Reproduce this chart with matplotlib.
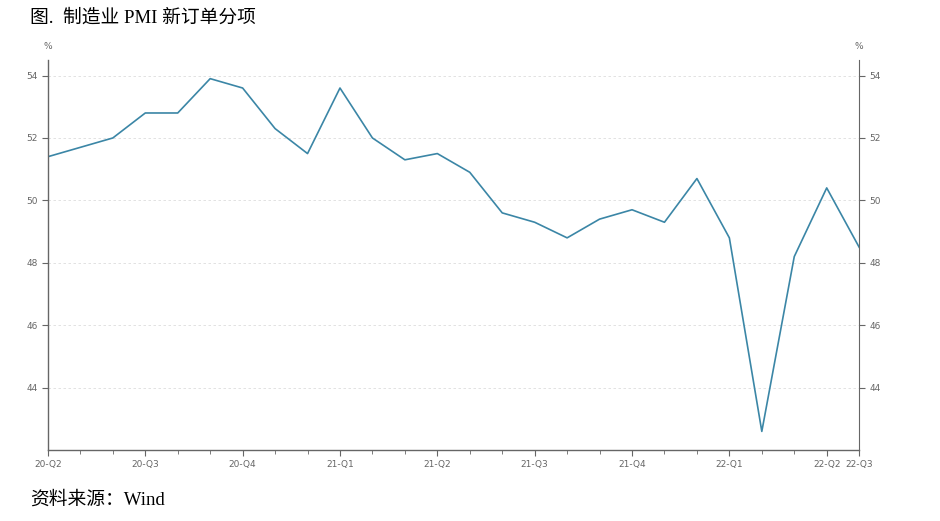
import matplotlib
matplotlib.use("Agg")
import matplotlib.pyplot as plt

# monthly new-orders index, 2020-06 .. 2022-07
months = ["2020-06", "2020-07", "2020-08", "2020-09", "2020-10", "2020-11", "2020-12",
          "2021-01", "2021-02", "2021-03", "2021-04", "2021-05", "2021-06",
          "2021-07", "2021-08", "2021-09", "2021-10", "2021-11", "2021-12",
          "2022-01", "2022-02", "2022-03", "2022-04", "2022-05", "2022-06", "2022-07"]
new_orders = [51.4, 51.7, 52.0, 52.8, 52.8, 53.9, 53.6,
              52.3, 51.5, 53.6, 52.0, 51.3, 51.5,
              50.9, 49.6, 49.3, 48.8, 49.4, 49.7,
              49.3, 50.7, 48.8, 42.6, 48.2, 50.4, 48.5]
tick_idx = [0, 3, 6, 9, 12, 15, 18, 21, 24, 25]
tick_labels = ["20-Q2", "20-Q3", "20-Q4", "21-Q1", "21-Q2", "21-Q3",
               "21-Q4", "22-Q1", "22-Q2", "22-Q3"]
y_ticks = [44, 46, 48, 50, 52, 54]

cjk = ["Liberation Serif", "Noto Sans CJK SC"]
grey = "#666666"

fig = plt.figure(figsize=(9.4, 5.21), dpi=100)
ax = fig.add_axes([0.051, 0.136, 0.863, 0.749])
x = list(range(len(months)))
ax.plot(x, new_orders, color="#3b86a6", linewidth=1.2)

ax.set_xlim(0, len(months) - 1)
ax.set_ylim(42, 54.5)
ax.set_yticks(y_ticks)
ax.set_xticks(tick_idx)
ax.set_xticklabels(tick_labels)
ax.set_xticks(x, minor=True)
ax.grid(axis="y", color="#dddddd", linestyle=(0, (3, 3)), linewidth=0.6)

for s in ["top", "right"]:
    ax.spines[s].set_visible(False)
for s in ["left", "bottom"]:
    ax.spines[s].set_color(grey)
    ax.spines[s].set_linewidth(1.0)
ax.tick_params(axis="both", colors=grey, labelsize=6.5, length=4, width=0.8)
ax.tick_params(axis="x", which="minor", colors=grey, length=3, width=0.6)
ax.tick_params(axis="x", pad=3)

ax2 = ax.twinx()
ax2.set_ylim(ax.get_ylim())
ax2.set_yticks(y_ticks)
for s in ["top", "left", "bottom"]:
    ax2.spines[s].set_visible(False)
ax2.spines["right"].set_color(grey)
ax2.tick_params(axis="y", colors=grey, labelsize=6.5, length=4, width=0.8)

fig.text(0.051, 0.905, "%", color=grey, fontsize=6.5, ha="center")
fig.text(0.914, 0.905, "%", color=grey, fontsize=6.5, ha="center")

fig.text(0.032, 0.965, "图.  制造业 PMI 新订单分项", family=cjk, fontsize=13.5, va="center")
fig.text(0.032, 0.04, "资料来源：Wind", family=cjk, fontsize=13.5, va="center")

fig.savefig("out.png", dpi=100)
